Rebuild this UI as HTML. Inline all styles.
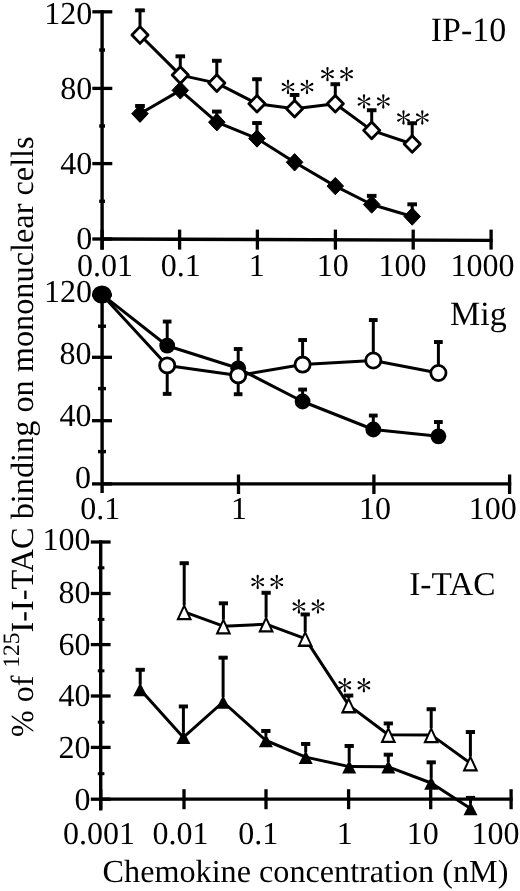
<!DOCTYPE html>
<html><head><meta charset="utf-8"><style>
html,body{margin:0;padding:0;background:#fff;}
svg{display:block;text-rendering:geometricPrecision;will-change:transform;}
text{font-family:"Liberation Serif",serif;fill:#000;stroke:none;}
</style></head><body>
<svg width="520" height="891" viewBox="0 0 520 891">
<defs>
<g id="arm" stroke="none"><path d="M-0.42,0 C-0.42,-2.7 -1.15,-4.5 -1.15,-6.05 A1.15,1.15 0 0 1 1.15,-6.05 C1.15,-4.5 0.42,-2.7 0.42,0 Z"/></g>
<g id="ast">
<use href="#arm"/><use href="#arm" transform="rotate(60)"/><use href="#arm" transform="rotate(120)"/>
<use href="#arm" transform="rotate(180)"/><use href="#arm" transform="rotate(240)"/><use href="#arm" transform="rotate(300)"/>
</g>
</defs>
<g stroke="#000" fill="#000">
<line x1="102.1" y1="10.2" x2="102.1" y2="249.6" stroke-width="3.4" stroke-linecap="butt"/>
<line x1="92.3" y1="11.8" x2="112.3" y2="11.8" stroke-width="3.3" stroke-linecap="butt"/>
<line x1="92.3" y1="88.4" x2="112.3" y2="88.4" stroke-width="3.3" stroke-linecap="butt"/>
<line x1="92.3" y1="163.6" x2="112.3" y2="163.6" stroke-width="3.3" stroke-linecap="butt"/>
<line x1="92.3" y1="239.0" x2="112.3" y2="239.0" stroke-width="3.3" stroke-linecap="butt"/>
<line x1="99.2" y1="50.0" x2="105.0" y2="50.0" stroke-width="3.4" stroke-linecap="butt"/>
<line x1="99.2" y1="126.0" x2="105.0" y2="126.0" stroke-width="3.4" stroke-linecap="butt"/>
<line x1="99.2" y1="201.3" x2="105.0" y2="201.3" stroke-width="3.4" stroke-linecap="butt"/>
<line x1="102.1" y1="239.0" x2="492.6" y2="240.4" stroke-width="3.4" stroke-linecap="butt"/>
<line x1="102.1" y1="229.6" x2="102.1" y2="249.6" stroke-width="3.3" stroke-linecap="butt"/>
<line x1="179.6" y1="229.6" x2="179.6" y2="249.6" stroke-width="3.3" stroke-linecap="butt"/>
<line x1="257.4" y1="229.6" x2="257.4" y2="249.6" stroke-width="3.3" stroke-linecap="butt"/>
<line x1="335.4" y1="229.6" x2="335.4" y2="249.6" stroke-width="3.3" stroke-linecap="butt"/>
<line x1="413.2" y1="229.6" x2="413.2" y2="249.6" stroke-width="3.3" stroke-linecap="butt"/>
<line x1="491.1" y1="229.6" x2="491.1" y2="249.6" stroke-width="3.3" stroke-linecap="butt"/>
<text x="92.3" y="23.6" font-size="32" text-anchor="end" >120</text>
<text x="92.3" y="99.0" font-size="32" text-anchor="end" >80</text>
<text x="92.3" y="173.9" font-size="32" text-anchor="end" >40</text>
<text x="92.3" y="248.9" font-size="32" text-anchor="end" >0</text>
<text x="77.1" y="276.3" font-size="32" text-anchor="start" >0.01</text>
<text x="160.8" y="276.3" font-size="32" text-anchor="start" >0.1</text>
<text x="248.7" y="276.3" font-size="32" text-anchor="start" >1</text>
<text x="316.7" y="276.3" font-size="32" text-anchor="start" >10</text>
<text x="378.5" y="276.3" font-size="32" text-anchor="start" >100</text>
<text x="450.6" y="276.3" font-size="32" text-anchor="start" >1000</text>
<text x="430.7" y="40.8" font-size="34" text-anchor="start" >IP-10</text>
<polyline points="140.0,35.0 180.3,75.1 216.8,83.1 257.0,103.8 294.6,108.7 335.3,103.8 371.7,130.4 412.2,144.0" fill="none" stroke-width="3.0" stroke-linejoin="round"/>
<polyline points="140.0,113.7 180.3,90.4 216.8,122.2 257.0,138.5 294.6,162.3 335.3,186.1 371.7,204.5 412.2,216.5" fill="none" stroke-width="3.0" stroke-linejoin="round"/>
<line x1="140.0" y1="35.0" x2="140.0" y2="10.3" stroke-width="3.0" stroke-linecap="butt"/>
<rect x="135.7" y="8.9" width="8.6" height="2.9"/>
<line x1="180.3" y1="75.1" x2="180.3" y2="56.4" stroke-width="3.0" stroke-linecap="butt"/>
<rect x="176.0" y="54.9" width="8.6" height="2.9"/>
<line x1="216.8" y1="83.1" x2="216.8" y2="60.8" stroke-width="3.0" stroke-linecap="butt"/>
<rect x="212.5" y="59.3" width="8.6" height="2.9"/>
<line x1="257.0" y1="103.8" x2="257.0" y2="79.2" stroke-width="3.0" stroke-linecap="butt"/>
<rect x="252.7" y="77.8" width="8.6" height="2.9"/>
<line x1="294.6" y1="108.7" x2="294.6" y2="95.0" stroke-width="3.0" stroke-linecap="butt"/>
<rect x="290.3" y="93.5" width="8.6" height="2.9"/>
<line x1="335.3" y1="103.8" x2="335.3" y2="84.2" stroke-width="3.0" stroke-linecap="butt"/>
<rect x="331.0" y="82.8" width="8.6" height="2.9"/>
<line x1="371.7" y1="130.4" x2="371.7" y2="110.2" stroke-width="3.0" stroke-linecap="butt"/>
<rect x="367.4" y="108.8" width="8.6" height="2.9"/>
<line x1="412.2" y1="144.0" x2="412.2" y2="123.3" stroke-width="3.0" stroke-linecap="butt"/>
<rect x="407.9" y="121.8" width="8.6" height="2.9"/>
<line x1="140.0" y1="113.7" x2="140.0" y2="106.0" stroke-width="3.0" stroke-linecap="butt"/>
<rect x="135.7" y="104.5" width="8.6" height="2.9"/>
<line x1="216.8" y1="122.2" x2="216.8" y2="111.6" stroke-width="3.0" stroke-linecap="butt"/>
<rect x="212.5" y="110.1" width="8.6" height="2.9"/>
<line x1="257.0" y1="138.5" x2="257.0" y2="123.1" stroke-width="3.0" stroke-linecap="butt"/>
<rect x="252.7" y="121.6" width="8.6" height="2.9"/>
<line x1="371.7" y1="204.5" x2="371.7" y2="195.8" stroke-width="3.0" stroke-linecap="butt"/>
<rect x="367.4" y="194.4" width="8.6" height="2.9"/>
<line x1="412.2" y1="216.5" x2="412.2" y2="204.3" stroke-width="3.0" stroke-linecap="butt"/>
<rect x="407.9" y="202.9" width="8.6" height="2.9"/>
<path d="M140.0,26.6 L148.1,35.0 L140.0,43.4 L131.9,35.0 Z" fill="#fff" stroke-width="2.8" stroke-linejoin="round"/>
<path d="M180.3,66.8 L188.4,75.1 L180.3,83.4 L172.2,75.1 Z" fill="#fff" stroke-width="2.8" stroke-linejoin="round"/>
<path d="M216.8,74.8 L224.9,83.1 L216.8,91.4 L208.7,83.1 Z" fill="#fff" stroke-width="2.8" stroke-linejoin="round"/>
<path d="M257.0,95.5 L265.1,103.8 L257.0,112.1 L248.9,103.8 Z" fill="#fff" stroke-width="2.8" stroke-linejoin="round"/>
<path d="M294.6,100.4 L302.7,108.7 L294.6,117.0 L286.5,108.7 Z" fill="#fff" stroke-width="2.8" stroke-linejoin="round"/>
<path d="M335.3,95.5 L343.4,103.8 L335.3,112.1 L327.2,103.8 Z" fill="#fff" stroke-width="2.8" stroke-linejoin="round"/>
<path d="M371.7,122.1 L379.8,130.4 L371.7,138.8 L363.6,130.4 Z" fill="#fff" stroke-width="2.8" stroke-linejoin="round"/>
<path d="M412.2,135.7 L420.3,144.0 L412.2,152.3 L404.1,144.0 Z" fill="#fff" stroke-width="2.8" stroke-linejoin="round"/>
<path d="M140.0,105.0 L148.3,113.7 L140.0,122.4 L131.7,113.7 Z" fill="#000" stroke-width="1" stroke-linejoin="round"/>
<path d="M180.3,81.7 L188.6,90.4 L180.3,99.1 L172.0,90.4 Z" fill="#000" stroke-width="1" stroke-linejoin="round"/>
<path d="M216.8,113.5 L225.1,122.2 L216.8,130.9 L208.5,122.2 Z" fill="#000" stroke-width="1" stroke-linejoin="round"/>
<path d="M257.0,129.8 L265.3,138.5 L257.0,147.2 L248.7,138.5 Z" fill="#000" stroke-width="1" stroke-linejoin="round"/>
<path d="M294.6,153.6 L302.9,162.3 L294.6,171.0 L286.3,162.3 Z" fill="#000" stroke-width="1" stroke-linejoin="round"/>
<path d="M335.3,177.4 L343.6,186.1 L335.3,194.8 L327.0,186.1 Z" fill="#000" stroke-width="1" stroke-linejoin="round"/>
<path d="M371.7,195.8 L380.0,204.5 L371.7,213.2 L363.4,204.5 Z" fill="#000" stroke-width="1" stroke-linejoin="round"/>
<path d="M412.2,207.8 L420.5,216.5 L412.2,225.2 L403.9,216.5 Z" fill="#000" stroke-width="1" stroke-linejoin="round"/>
<use href="#ast" x="288.0" y="87.0"/>
<use href="#ast" x="307.0" y="87.0"/>
<use href="#ast" x="327.5" y="74.1"/>
<use href="#ast" x="346.6" y="74.1"/>
<use href="#ast" x="364.0" y="101.5"/>
<use href="#ast" x="383.3" y="101.5"/>
<use href="#ast" x="403.5" y="117.5"/>
<use href="#ast" x="422.3" y="117.5"/>
<line x1="102.1" y1="293.0" x2="102.1" y2="493.0" stroke-width="3.4" stroke-linecap="butt"/>
<line x1="92.0" y1="295.0" x2="112.0" y2="295.0" stroke-width="3.3" stroke-linecap="butt"/>
<line x1="92.0" y1="357.3" x2="112.0" y2="357.3" stroke-width="3.3" stroke-linecap="butt"/>
<line x1="92.0" y1="420.7" x2="112.0" y2="420.7" stroke-width="3.3" stroke-linecap="butt"/>
<line x1="92.0" y1="483.9" x2="112.0" y2="483.9" stroke-width="3.3" stroke-linecap="butt"/>
<line x1="98.0" y1="326.2" x2="106.0" y2="326.2" stroke-width="3.4" stroke-linecap="butt"/>
<line x1="98.0" y1="388.6" x2="106.0" y2="388.6" stroke-width="3.4" stroke-linecap="butt"/>
<line x1="98.0" y1="451.6" x2="106.0" y2="451.6" stroke-width="3.4" stroke-linecap="butt"/>
<line x1="102.1" y1="483.9" x2="511.2" y2="483.9" stroke-width="3.4" stroke-linecap="butt"/>
<line x1="238.5" y1="474.5" x2="238.5" y2="494.0" stroke-width="3.3" stroke-linecap="butt"/>
<line x1="373.9" y1="474.5" x2="373.9" y2="494.0" stroke-width="3.3" stroke-linecap="butt"/>
<line x1="509.6" y1="474.5" x2="509.6" y2="494.0" stroke-width="3.3" stroke-linecap="butt"/>
<text x="92.0" y="302.3" font-size="32" text-anchor="end" >120</text>
<text x="91.4" y="364.0" font-size="32" text-anchor="end" >80</text>
<text x="91.4" y="426.3" font-size="32" text-anchor="end" >40</text>
<text x="91.0" y="487.5" font-size="32" text-anchor="end" >0</text>
<text x="80.3" y="518.9" font-size="32" text-anchor="start" >0.1</text>
<text x="231.0" y="518.9" font-size="32" text-anchor="start" >1</text>
<text x="359.1" y="518.9" font-size="32" text-anchor="start" >10</text>
<text x="468.7" y="518.9" font-size="32" text-anchor="start" >100</text>
<text x="450.0" y="325.0" font-size="34" text-anchor="start" >Mig</text>
<polyline points="101.8,294.4 167.2,345.7 238.2,368.3 302.6,401.5 373.3,429.5 438.4,436.3" fill="none" stroke-width="3.0" stroke-linejoin="round"/>
<polyline points="101.8,294.4 167.2,365.4 238.2,375.4 302.6,364.6 373.3,360.5 438.4,373.0" fill="none" stroke-width="3.0" stroke-linejoin="round"/>
<line x1="167.2" y1="345.7" x2="167.2" y2="321.5" stroke-width="3.0" stroke-linecap="butt"/>
<rect x="163.3" y="320.1" width="7.7" height="2.9"/>
<line x1="238.2" y1="368.3" x2="238.2" y2="349.0" stroke-width="3.0" stroke-linecap="butt"/>
<rect x="234.3" y="347.6" width="7.7" height="2.9"/>
<line x1="302.6" y1="401.5" x2="302.6" y2="389.5" stroke-width="3.0" stroke-linecap="butt"/>
<rect x="298.8" y="388.1" width="7.7" height="2.9"/>
<line x1="373.3" y1="429.5" x2="373.3" y2="415.5" stroke-width="3.0" stroke-linecap="butt"/>
<rect x="369.4" y="414.1" width="7.7" height="2.9"/>
<line x1="438.4" y1="436.3" x2="438.4" y2="422.0" stroke-width="3.0" stroke-linecap="butt"/>
<rect x="434.5" y="420.6" width="7.7" height="2.9"/>
<line x1="167.2" y1="365.4" x2="167.2" y2="393.8" stroke-width="3.0" stroke-linecap="butt"/>
<rect x="163.3" y="392.4" width="7.7" height="2.9"/>
<line x1="238.2" y1="375.4" x2="238.2" y2="394.2" stroke-width="3.0" stroke-linecap="butt"/>
<rect x="234.3" y="392.8" width="7.7" height="2.9"/>
<line x1="302.6" y1="364.6" x2="302.6" y2="340.0" stroke-width="3.0" stroke-linecap="butt"/>
<rect x="298.8" y="338.6" width="7.7" height="2.9"/>
<line x1="373.3" y1="360.5" x2="373.3" y2="320.0" stroke-width="3.0" stroke-linecap="butt"/>
<rect x="369.4" y="318.6" width="7.7" height="2.9"/>
<line x1="438.4" y1="373.0" x2="438.4" y2="342.0" stroke-width="3.0" stroke-linecap="butt"/>
<rect x="434.5" y="340.6" width="7.7" height="2.9"/>
<circle cx="167.2" cy="345.7" r="7.9" fill="#000" stroke="none"/>
<circle cx="238.2" cy="368.3" r="7.9" fill="#000" stroke="none"/>
<circle cx="302.6" cy="401.5" r="7.9" fill="#000" stroke="none"/>
<circle cx="373.3" cy="429.5" r="7.9" fill="#000" stroke="none"/>
<circle cx="438.4" cy="436.3" r="7.9" fill="#000" stroke="none"/>
<circle cx="167.2" cy="365.4" r="7.6" fill="#fff" stroke-width="2.8"/>
<circle cx="238.2" cy="375.4" r="7.6" fill="#fff" stroke-width="2.8"/>
<circle cx="302.6" cy="364.6" r="7.6" fill="#fff" stroke-width="2.8"/>
<circle cx="373.3" cy="360.5" r="7.6" fill="#fff" stroke-width="2.8"/>
<circle cx="438.4" cy="373.0" r="7.6" fill="#fff" stroke-width="2.8"/>
<ellipse cx="101.9" cy="294.5" rx="9.8" ry="9.1" stroke="none"/>
<line x1="100.7" y1="540.3" x2="100.7" y2="810.5" stroke-width="3.4" stroke-linecap="butt"/>
<line x1="90.8" y1="542.0" x2="110.6" y2="542.0" stroke-width="3.3" stroke-linecap="butt"/>
<line x1="90.8" y1="593.5" x2="110.6" y2="593.5" stroke-width="3.3" stroke-linecap="butt"/>
<line x1="90.8" y1="644.6" x2="110.6" y2="644.6" stroke-width="3.3" stroke-linecap="butt"/>
<line x1="90.8" y1="696.0" x2="110.6" y2="696.0" stroke-width="3.3" stroke-linecap="butt"/>
<line x1="90.8" y1="747.4" x2="110.6" y2="747.4" stroke-width="3.3" stroke-linecap="butt"/>
<line x1="90.8" y1="799.2" x2="110.6" y2="799.2" stroke-width="3.3" stroke-linecap="butt"/>
<line x1="97.8" y1="567.8" x2="104.4" y2="567.8" stroke-width="3.0" stroke-linecap="butt"/>
<line x1="97.8" y1="619.4" x2="104.4" y2="619.4" stroke-width="3.0" stroke-linecap="butt"/>
<line x1="97.8" y1="670.8" x2="104.4" y2="670.8" stroke-width="3.0" stroke-linecap="butt"/>
<line x1="97.8" y1="722.2" x2="104.4" y2="722.2" stroke-width="3.0" stroke-linecap="butt"/>
<line x1="97.8" y1="773.7" x2="104.4" y2="773.7" stroke-width="3.0" stroke-linecap="butt"/>
<line x1="100.7" y1="799.1" x2="512.6" y2="799.1" stroke-width="3.4" stroke-linecap="butt"/>
<line x1="100.7" y1="789.2" x2="100.7" y2="809.2" stroke-width="3.3" stroke-linecap="butt"/>
<line x1="184.0" y1="789.2" x2="184.0" y2="809.2" stroke-width="3.3" stroke-linecap="butt"/>
<line x1="266.0" y1="789.2" x2="266.0" y2="809.2" stroke-width="3.3" stroke-linecap="butt"/>
<line x1="348.6" y1="789.2" x2="348.6" y2="809.2" stroke-width="3.3" stroke-linecap="butt"/>
<line x1="430.7" y1="789.2" x2="430.7" y2="809.2" stroke-width="3.3" stroke-linecap="butt"/>
<line x1="511.1" y1="789.2" x2="511.1" y2="809.2" stroke-width="3.3" stroke-linecap="butt"/>
<text x="90.6" y="550.4" font-size="32" text-anchor="end" >100</text>
<text x="90.6" y="602.6" font-size="32" text-anchor="end" >80</text>
<text x="90.6" y="654.8" font-size="32" text-anchor="end" >60</text>
<text x="90.6" y="706.4" font-size="32" text-anchor="end" >40</text>
<text x="90.6" y="758.2" font-size="32" text-anchor="end" >20</text>
<text x="90.6" y="809.6" font-size="32" text-anchor="end" >0</text>
<text x="63.0" y="843.7" font-size="32" text-anchor="start" >0.001</text>
<text x="152.6" y="843.7" font-size="32" text-anchor="start" >0.01</text>
<text x="238.3" y="843.7" font-size="32" text-anchor="start" >0.1</text>
<text x="336.8" y="843.7" font-size="32" text-anchor="start" >1</text>
<text x="406.8" y="843.7" font-size="32" text-anchor="start" >10</text>
<text x="471.6" y="843.7" font-size="32" text-anchor="start" >100</text>
<text x="409.2" y="594.6" font-size="33.4" text-anchor="start" >I-TAC</text>
<text x="102.6" y="882.0" font-size="32.2" text-anchor="start" >Chemokine concentration (nM)</text>
<polyline points="184.2,611.9 223.4,626.2 266.1,624.2 305.2,638.6 348.7,705.1 388.3,734.8 431.2,734.9 470.4,763.2" fill="none" stroke-width="3.0" stroke-linejoin="round"/>
<polyline points="140.2,689.5 183.4,737.4 223.1,702.0 265.9,740.5 305.7,757.1 349.2,766.6 388.3,766.8 431.2,783.0 470.5,808.5" fill="none" stroke-width="3.0" stroke-linejoin="round"/>
<line x1="184.2" y1="605.2" x2="184.2" y2="563.2" stroke-width="3.0" stroke-linecap="butt"/>
<rect x="180.1" y="561.8" width="8.2" height="2.9"/>
<line x1="223.4" y1="619.5" x2="223.4" y2="603.4" stroke-width="3.0" stroke-linecap="butt"/>
<rect x="219.3" y="601.9" width="8.2" height="2.9"/>
<line x1="266.1" y1="617.5" x2="266.1" y2="592.8" stroke-width="3.0" stroke-linecap="butt"/>
<rect x="262.0" y="591.3" width="8.2" height="2.9"/>
<line x1="305.2" y1="631.9" x2="305.2" y2="614.5" stroke-width="3.0" stroke-linecap="butt"/>
<rect x="301.1" y="613.0" width="8.2" height="2.9"/>
<line x1="348.7" y1="698.4" x2="348.7" y2="695.6" stroke-width="3.0" stroke-linecap="butt"/>
<rect x="344.6" y="694.1" width="8.2" height="2.9"/>
<line x1="388.3" y1="728.1" x2="388.3" y2="723.5" stroke-width="3.0" stroke-linecap="butt"/>
<rect x="384.2" y="722.0" width="8.2" height="2.9"/>
<line x1="431.2" y1="728.2" x2="431.2" y2="709.2" stroke-width="3.0" stroke-linecap="butt"/>
<rect x="427.1" y="707.8" width="8.2" height="2.9"/>
<line x1="470.4" y1="756.5" x2="470.4" y2="732.1" stroke-width="3.0" stroke-linecap="butt"/>
<rect x="466.3" y="730.6" width="8.2" height="2.9"/>
<line x1="140.2" y1="684.7" x2="140.2" y2="669.8" stroke-width="3.0" stroke-linecap="butt"/>
<rect x="136.1" y="668.3" width="8.2" height="2.9"/>
<line x1="183.4" y1="732.6" x2="183.4" y2="706.5" stroke-width="3.0" stroke-linecap="butt"/>
<rect x="179.3" y="705.0" width="8.2" height="2.9"/>
<line x1="223.1" y1="697.2" x2="223.1" y2="657.7" stroke-width="3.0" stroke-linecap="butt"/>
<rect x="219.0" y="656.2" width="8.2" height="2.9"/>
<line x1="265.9" y1="735.8" x2="265.9" y2="731.0" stroke-width="3.0" stroke-linecap="butt"/>
<rect x="261.8" y="729.5" width="8.2" height="2.9"/>
<line x1="305.7" y1="752.4" x2="305.7" y2="744.0" stroke-width="3.0" stroke-linecap="butt"/>
<rect x="301.6" y="742.5" width="8.2" height="2.9"/>
<line x1="349.2" y1="761.9" x2="349.2" y2="746.0" stroke-width="3.0" stroke-linecap="butt"/>
<rect x="345.1" y="744.5" width="8.2" height="2.9"/>
<line x1="388.3" y1="762.0" x2="388.3" y2="754.7" stroke-width="3.0" stroke-linecap="butt"/>
<rect x="384.2" y="753.2" width="8.2" height="2.9"/>
<line x1="431.2" y1="778.3" x2="431.2" y2="762.4" stroke-width="3.0" stroke-linecap="butt"/>
<rect x="427.1" y="760.9" width="8.2" height="2.9"/>
<line x1="470.5" y1="803.8" x2="470.5" y2="797.9" stroke-width="3.0" stroke-linecap="butt"/>
<rect x="466.4" y="796.4" width="8.2" height="2.9"/>
<path d="M184.20,603.20 L192.10,620.20 L176.30,620.20 Z" fill="#000" stroke="none"/>
<path d="M184.20,607.95 L188.83,617.90 L179.57,617.90 Z" fill="#fff" stroke="none"/>
<path d="M223.40,617.50 L231.30,634.50 L215.50,634.50 Z" fill="#000" stroke="none"/>
<path d="M223.40,622.25 L228.03,632.20 L218.77,632.20 Z" fill="#fff" stroke="none"/>
<path d="M266.10,615.50 L274.00,632.50 L258.20,632.50 Z" fill="#000" stroke="none"/>
<path d="M266.10,620.25 L270.73,630.20 L261.47,630.20 Z" fill="#fff" stroke="none"/>
<path d="M305.20,629.90 L313.10,646.90 L297.30,646.90 Z" fill="#000" stroke="none"/>
<path d="M305.20,634.65 L309.83,644.60 L300.57,644.60 Z" fill="#fff" stroke="none"/>
<path d="M348.70,696.40 L356.60,713.40 L340.80,713.40 Z" fill="#000" stroke="none"/>
<path d="M348.70,701.15 L353.33,711.10 L344.07,711.10 Z" fill="#fff" stroke="none"/>
<path d="M388.30,726.10 L396.20,743.10 L380.40,743.10 Z" fill="#000" stroke="none"/>
<path d="M388.30,730.85 L392.93,740.80 L383.67,740.80 Z" fill="#fff" stroke="none"/>
<path d="M431.20,726.20 L439.10,743.20 L423.30,743.20 Z" fill="#000" stroke="none"/>
<path d="M431.20,730.95 L435.83,740.90 L426.57,740.90 Z" fill="#fff" stroke="none"/>
<path d="M470.40,754.50 L478.30,771.50 L462.50,771.50 Z" fill="#000" stroke="none"/>
<path d="M470.40,759.25 L475.03,769.20 L465.77,769.20 Z" fill="#fff" stroke="none"/>
<path d="M140.20,682.70 L147.20,696.20 L133.20,696.20 Z" fill="#000" stroke="none"/>
<path d="M183.40,730.60 L190.40,744.10 L176.40,744.10 Z" fill="#000" stroke="none"/>
<path d="M223.10,695.20 L230.10,708.70 L216.10,708.70 Z" fill="#000" stroke="none"/>
<path d="M265.90,733.80 L272.90,747.30 L258.90,747.30 Z" fill="#000" stroke="none"/>
<path d="M305.70,750.40 L312.70,763.90 L298.70,763.90 Z" fill="#000" stroke="none"/>
<path d="M349.20,759.90 L356.20,773.40 L342.20,773.40 Z" fill="#000" stroke="none"/>
<path d="M388.30,760.00 L395.30,773.50 L381.30,773.50 Z" fill="#000" stroke="none"/>
<path d="M431.20,776.30 L438.20,789.80 L424.20,789.80 Z" fill="#000" stroke="none"/>
<path d="M470.50,801.80 L477.50,815.30 L463.50,815.30 Z" fill="#000" stroke="none"/>
<use href="#ast" x="257.7" y="582.0"/>
<use href="#ast" x="276.8" y="582.0"/>
<use href="#ast" x="298.9" y="606.5"/>
<use href="#ast" x="318.0" y="606.5"/>
<use href="#ast" x="344.8" y="685.2"/>
<use href="#ast" x="363.9" y="685.2"/>
<text transform="translate(33,737) rotate(-90)" font-size="32">% of <tspan font-size="23.5" dy="-14">125</tspan><tspan dy="14" font-size="32.3">I-I-TAC binding on mononuclear cells</tspan></text>
</g>
</svg>
</body></html>
